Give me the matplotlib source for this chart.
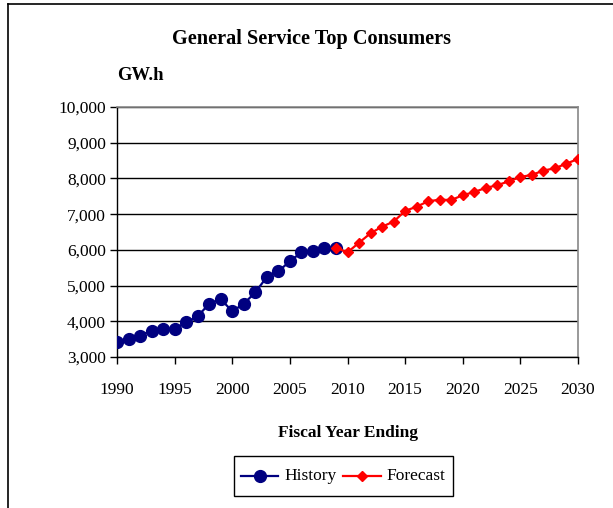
import matplotlib
matplotlib.use("Agg")
import matplotlib.pyplot as plt
from matplotlib.ticker import FuncFormatter, MultipleLocator
from matplotlib.patches import Rectangle
from matplotlib.lines import Line2D

hist_years = list(range(1990, 2010))
hist_vals = [3410, 3510, 3600, 3740, 3790, 3790, 3970, 4140, 4490, 4620,
             4280, 4490, 4810, 5240, 5400, 5680, 5930, 5960, 6060, 6060]
fc_years = list(range(2009, 2031))
fc_vals = [6060, 5930, 6200, 6465, 6650, 6790, 7090, 7210, 7360, 7405, 7395,
           7530, 7620, 7735, 7810, 7920, 8040, 8100, 8220, 8285, 8415, 8545]

title = "General Service Top Consumers"
ylabel = "GW.h"
xlabel = "Fiscal Year Ending"

plt.rcParams['font.family'] = ['Liberation Serif', 'DejaVu Serif']

W, H = 613, 508
fig = plt.figure(figsize=(W/100, H/100), dpi=100)
ax = fig.add_axes([117/W, 1-357/H, (578-117)/W, (357-107)/H])

ax.plot(hist_years, hist_vals, color='#000080', lw=1.6, marker='o',
        markersize=8.5, markerfacecolor='#000080', markeredgecolor='#000080', zorder=3)
ax.plot(fc_years, fc_vals, color='#FF0000', lw=1.6, marker='D',
        markersize=5.5, markerfacecolor='#FF0000', markeredgecolor='#FF0000', zorder=4)

ax.set_xlim(1990, 2030)
ax.set_ylim(3000, 10000)
ax.xaxis.set_major_locator(MultipleLocator(5))
ax.yaxis.set_major_locator(MultipleLocator(1000))
ax.yaxis.set_major_formatter(FuncFormatter(lambda v, p: f"{int(v):,}"))
ax.grid(axis='y', color='black', lw=1.0)
ax.set_axisbelow(True)
for s in ['top', 'right']:
    ax.spines[s].set_color('#888888')
    ax.spines[s].set_linewidth(1.2)
for s in ['left', 'bottom']:
    ax.spines[s].set_color('black')
    ax.spines[s].set_linewidth(1.0)
ax.tick_params(axis='both', direction='out', length=5, width=1, labelsize=12.5, colors='black')
ax.tick_params(axis='x', pad=13)
ax.tick_params(axis='y', pad=3)

fig.text(312/W, 1-39/H, title, ha='center', va='center', fontsize=14.6, fontweight='bold')
fig.text(140/W, 1-76/H, ylabel, ha='center', va='center', fontsize=13.4, fontweight='bold')
fig.text(348/W, 1-433/H, xlabel, ha='center', va='center', fontsize=12.5, fontweight='bold')

# legend
lx0, ly0, lx1, ly1 = 234, 456, 453, 496
fig.patches.append(Rectangle((lx0/W, 1-ly1/H), (lx1-lx0)/W, (ly1-ly0)/H,
                             transform=fig.transFigure, fill=False, ec='black', lw=1.0))
ly = 1-476/H
fig.lines.append(Line2D([241/W, 278/W], [ly, ly], transform=fig.transFigure,
                        color='#000080', lw=1.6))
fig.lines.append(Line2D([259.5/W], [ly], transform=fig.transFigure,
                        color='#000080', marker='o', markersize=8.5, lw=0))
fig.text(284/W, ly, "History", ha='left', va='center', fontsize=12.5)
fig.lines.append(Line2D([343/W, 381/W], [ly, ly], transform=fig.transFigure,
                        color='#FF0000', lw=1.6))
fig.lines.append(Line2D([362/W], [ly], transform=fig.transFigure,
                        color='#FF0000', marker='D', markersize=5.5, lw=0))
fig.text(386/W, ly, "Forecast", ha='left', va='center', fontsize=12.5)

# outer border (top and left visible)
fig.lines.append(Line2D([8/W, 8/W], [0, 1-3.5/H], transform=fig.transFigure, color='black', lw=1.2))
fig.lines.append(Line2D([8/W, 1], [1-3.5/H, 1-3.5/H], transform=fig.transFigure, color='black', lw=1.2))

fig.savefig("out.png", dpi=100)
